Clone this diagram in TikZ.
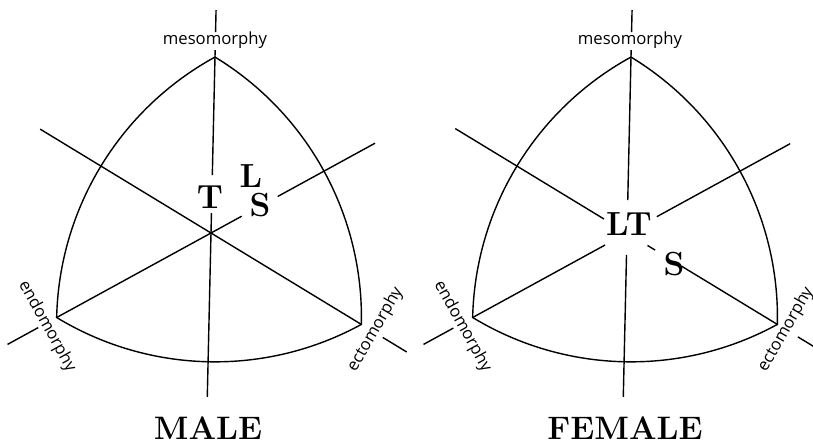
\documentclass[tikz,border=0pt]{standalone}
\usepackage{fontspec}
\newfontfamily\somatofont{Open Sans}
\begin{document}
\begin{tikzpicture}[x=0.02cm, y=0.02cm,
    axis/.style = {draw=black, line width=0.8pt},
    somato/.style = {inner sep=0pt, font=\somatofont\fontsize{9.5}{11}\selectfont},
    letter/.style = {inner sep=0pt, font=\bfseries\fontsize{19}{22}\selectfont},
    sextitle/.style = {inner sep=0pt, font=\bfseries\fontsize{18.5}{22}\selectfont}
]
\useasboundingbox (0,0) rectangle (813,444);

% male chart
\begin{scope}[shift={(211,211)}, rotate=-1.3]
  \coordinate (m_meso) at (90:176);
  \coordinate (m_endo) at (210:176);
  \coordinate (m_ecto) at (330:176);
  \draw[axis] (m_meso) arc[start angle=60, end angle=0, radius=304.8]
    arc[start angle=-60, end angle=-120, radius=304.8]
    arc[start angle=180, end angle=120, radius=304.8] -- cycle;
  \draw[axis] (90:223) -- (90:201);
  \draw[axis] (90:183) -- (90:58);
  \draw[axis] (90:20) -- (270:164);
  \draw[axis] (150:200) -- (m_ecto);
  \draw[axis] (330:201) -- (330:229);
  \draw[axis] (30:187) -- (30:76);
  \draw[axis] (30:35) -- (m_endo);
  \draw[axis] (210:197) -- (210:232);
\end{scope}

% female chart
\begin{scope}[shift={(627,211)}, rotate=-1.3]
  \coordinate (f_meso) at (90:176);
  \coordinate (f_endo) at (210:176);
  \coordinate (f_ecto) at (330:176);
  \draw[axis] (f_meso) arc[start angle=60, end angle=0, radius=304.8]
    arc[start angle=-60, end angle=-120, radius=304.8]
    arc[start angle=180, end angle=120, radius=304.8] -- cycle;
  \draw[axis] (90:223) -- (90:201);
  \draw[axis] (90:183) -- (90:33);
  \draw[axis] (270:22) -- (270:164);
  \draw[axis] (150:201) -- (150:27);
  \draw[axis] (330:24) -- (330:33);
  \draw[axis] (330:64) -- (f_ecto);
  \draw[axis] (330:200) -- (330:229);
  \draw[axis] (30:186) -- (30:34);
  \draw[axis] (210:25) -- (f_endo);
  \draw[axis] (210:198) -- (210:232);
\end{scope}

% axis names
\node[somato] (m_meso_lbl) at (215,404) {mesomorphy};
\node[somato, rotate=-61] (m_endo_lbl) at (47,117.5) {endomorphy};
\node[somato, rotate=60] (m_ecto_lbl) at (375.5,114.5) {ectomorphy};
\node[somato] (f_meso_lbl) at (630,404) {mesomorphy};
\node[somato, rotate=-61] (f_endo_lbl) at (462.5,117.5) {endomorphy};
\node[somato, rotate=60] (f_ecto_lbl) at (786,114.5) {ectomorphy};

% letters
\node[letter] (m_t) at (210,247) {T};
\node[letter] (m_l) at (251,268) {L};
\node[letter] (m_s) at (260,239) {S};
\node[letter] (f_lt) at (629,220) {LT};
\node[letter] (f_s) at (674,180) {S};

\node[sextitle] (male) at (208,16) {MALE};
\node[sextitle] (female) at (625,16) {FEMALE};
\end{tikzpicture}
\end{document}
